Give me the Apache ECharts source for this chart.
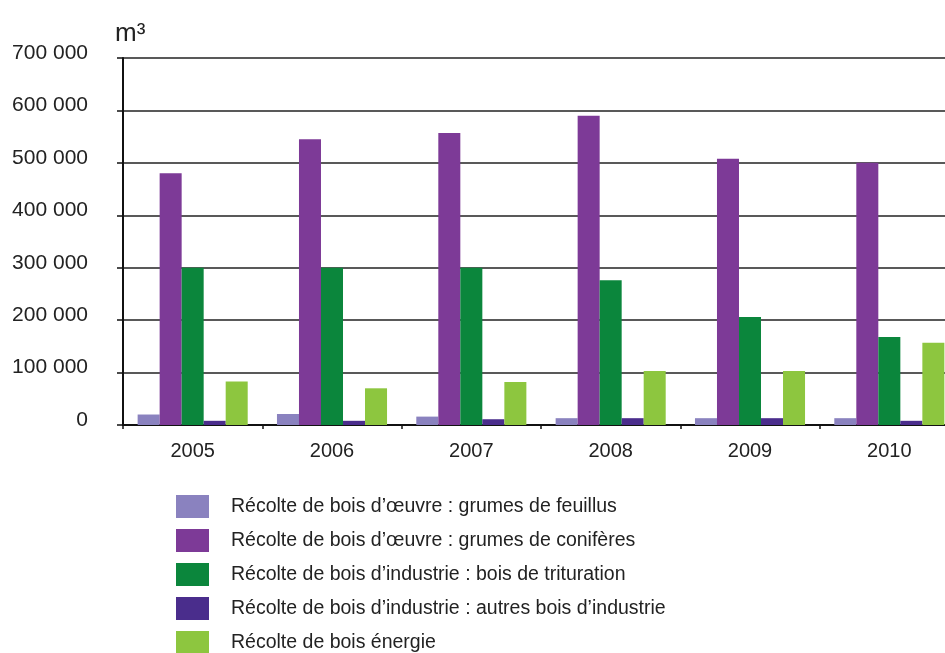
<!DOCTYPE html>
<html>
<head>
<meta charset="utf-8">
<title>Récolte de bois</title>
<script src="https://cdn.jsdelivr.net/npm/echarts@6/dist/echarts.min.js"></script>
<style>
  html, body { margin: 0; padding: 0; background: #ffffff; }
  #chart { width: 945px; height: 653px; }
</style>
</head>
<body>
<div id="chart"></div>
<script>
// Années de récolte
const years = ['2005', '2006', '2007', '2008', '2009', '2010'];

// Volumes récoltés (m³) par type de produit
const feuillus     = [20000, 21000, 16000, 13000, 13000, 13000];
const coniferes    = [480000, 545000, 557000, 590000, 508000, 500000];
const trituration  = [300000, 300000, 300000, 276000, 206000, 168000];
const autresBois   = [8000, 8000, 11000, 13000, 13000, 8000];
const boisEnergie  = [83000, 70000, 82000, 103000, 103000, 157000];

// Libellés de la légende
const seriesNames = [
  'Récolte de bois d\u2019œuvre : grumes de feuillus',
  'Récolte de bois d\u2019œuvre : grumes de conifères',
  'Récolte de bois d\u2019industrie : bois de trituration',
  'Récolte de bois d\u2019industrie : autres bois d\u2019industrie',
  'Récolte de bois énergie'
];
const seriesData = [feuillus, coniferes, trituration, autresBois, boisEnergie];
const seriesColors = ['#8a82bf', '#7d3a97', '#0b863c', '#4a2d8c', '#8dc63f'];

// Axe des volumes
const yMin = 0, yMax = 700000, yStep = 100000;

const font = '"Liberation Sans", Arial, sans-serif';
const chart = echarts.init(document.getElementById('chart'));

chart.setOption({
  animation: false,
  backgroundColor: '#ffffff',
  textStyle: { fontFamily: font },
  title: {
    text: 'm³',
    left: 110,
    top: 16,
    textStyle: { fontFamily: font, fontSize: 26, fontWeight: 'normal', color: '#222' }
  },
  grid: {
    left: 123,
    top: 58,
    width: 836,
    height: 367,
    containLabel: false,
    outerBoundsMode: 'none'
  },
  legend: {
    orient: 'vertical',
    left: 176,
    top: 495,
    padding: 0,
    height: 220,
    icon: 'rect',
    itemWidth: 33,
    itemHeight: 23,
    itemGap: 11,
    selectedMode: false,
    data: seriesNames,
    textStyle: { fontFamily: font, fontSize: 19.5, color: '#222', padding: [0, 0, 0, 17] }
  },
  xAxis: {
    type: 'category',
    data: years,
    axisLine: { show: true, lineStyle: { color: '#111', width: 2 } },
    axisTick: { show: true, length: 4, lineStyle: { color: '#111', width: 1.5 } },
    axisLabel: { fontFamily: font, fontSize: 20, color: '#222', margin: 16 }
  },
  yAxis: {
    type: 'value',
    min: yMin,
    max: yMax,
    interval: yStep,
    axisLine: { show: true, lineStyle: { color: '#111', width: 2 } },
    axisTick: { show: true, length: 6, lineStyle: { color: '#111', width: 1.5 } },
    splitLine: { show: true, lineStyle: { color: '#222', width: 1.5 } },
    axisLabel: {
      fontFamily: font,
      fontSize: 21,
      color: '#222',
      margin: 35,
      verticalAlign: 'bottom',
      lineHeight: 10,
      formatter: function (v) {
        return String(v).replace(/\B(?=(\d{3})+(?!\d))/g, ' ');
      }
    }
  },
  series: seriesNames.map(function (name, i) {
    return {
      name: name,
      type: 'bar',
      data: seriesData[i],
      barGap: '0%',
      barCategoryGap: '21%',
      itemStyle: { color: seriesColors[i] }
    };
  })
});
</script>
</body>
</html>
